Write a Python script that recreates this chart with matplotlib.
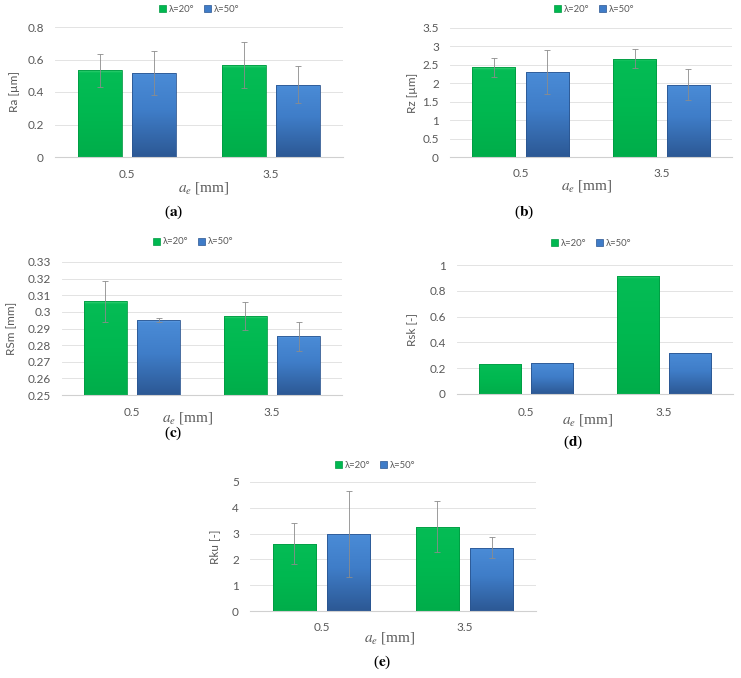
import matplotlib

matplotlib.use("Agg")
import matplotlib.pyplot as plt
import numpy as np
from matplotlib.colors import LinearSegmentedColormap
from matplotlib.patches import Patch
from matplotlib.ticker import FuncFormatter

plt.rcParams["mathtext.fontset"] = "stix"

W, H = 741, 678

# ---- data ----
categories = ["0.5", "3.5"]
series_names = ["λ=20°", "λ=50°"]

ra_mean = {"λ=20°": [0.533, 0.566], "λ=50°": [0.517, 0.445]}
ra_err = {"λ=20°": [0.10, 0.14], "λ=50°": [0.133, 0.113]}

rz_mean = {"λ=20°": [2.435, 2.67], "λ=50°": [2.31, 1.966]}
rz_err = {"λ=20°": [0.26, 0.26], "λ=50°": [0.60, 0.43]}

rsm_mean = {"λ=20°": [0.3063, 0.2973], "λ=50°": [0.2949, 0.2853]}
rsm_err = {"λ=20°": [0.0121, 0.0084], "λ=50°": [0.0012, 0.0086]}

rsk_mean = {"λ=20°": [0.229, 0.915], "λ=50°": [0.239, 0.319]}

rku_mean = {"λ=20°": [2.616, 3.27], "λ=50°": [3.0, 2.46]}
rku_err = {"λ=20°": [0.80, 0.98], "λ=50°": [1.67, 0.39]}

ra_ticks = [0, 0.2, 0.4, 0.6, 0.8]
rz_ticks = [0, 0.5, 1, 1.5, 2, 2.5, 3, 3.5]
rsm_ticks = [0.25, 0.26, 0.27, 0.28, 0.29, 0.30, 0.31, 0.32, 0.33]
rsk_ticks = [0, 0.2, 0.4, 0.6, 0.8, 1]
rku_ticks = [0, 1, 2, 3, 4, 5]

GREEN_CMAP = LinearSegmentedColormap.from_list(
    "g", [(0, "#3fd67a"), (0.03, "#05bc55"), (0.5, "#00b850"), (1, "#00ad4a")])
BLUE_CMAP = LinearSegmentedColormap.from_list(
    "b", [(0, "#6aa6e8"), (0.03, "#4a8bd6"), (0.45, "#3f7dc8"), (1, "#2c5894")])
STYLES = {
    "λ=20°": dict(cmap=GREEN_CMAP, face="#00b850", edge="#009a42"),
    "λ=50°": dict(cmap=BLUE_CMAP, face="#3f7cc8", edge="#2a5590"),
}
TEXT_GRAY = "#595959"
TICK_FONT = "Lato"
SERIF = "Liberation Serif"


def fx(x):
    return x / W


def fy(y):
    return 1 - y / H


def gradient_bars(ax, bars, cmap):
    grad = np.linspace(0, 1, 256).reshape(-1, 1)
    for bar in bars:
        x0, y0 = bar.get_x(), bar.get_y()
        w, h = bar.get_width(), bar.get_height()
        im = ax.imshow(grad, cmap=cmap, aspect="auto", origin="upper",
                       extent=[x0, x0 + w, y0, y0 + h], zorder=2, interpolation="bilinear")
        im.set_clip_path(bar)


def draw_panel(box, means, errs, ticks, ylim, ylabel, letter, pos):
    left, top, right, bottom = box
    ax = plt.gcf().add_axes([fx(left), fy(bottom), fx(right - left), (bottom - top) / H])
    x = np.arange(len(categories))
    width = 0.305
    offs = [-0.19, 0.19]
    base = ylim[0]
    for name, off in zip(series_names, offs):
        st = STYLES[name]
        heights = [m - base for m in means[name]]
        bars = ax.bar(x + off, heights, width, bottom=base,
                      color=st["face"], edgecolor=st["edge"], linewidth=0.6, zorder=3)
        gradient_bars(ax, bars, st["cmap"])
        for b in bars:
            b.set_facecolor("none")
        if errs is not None:
            ax.errorbar(x + off, means[name], yerr=errs[name], fmt="none",
                        ecolor="#8c8c8c", elinewidth=0.6, capsize=2, capthick=0.6, zorder=4)
    ax.set_xlim(-0.5, 1.5)
    ax.set_ylim(*ylim)
    ax.set_yticks(ticks)
    ax.yaxis.set_major_formatter(FuncFormatter(lambda v, p: f"{round(v, 4):g}"))
    ax.set_xticks(x)
    ax.set_xticklabels(categories)
    ax.grid(axis="y", color="#e3e3e3", linewidth=0.7, zorder=0)
    ax.set_axisbelow(True)
    for s in ["top", "right", "left"]:
        ax.spines[s].set_visible(False)
    ax.spines["bottom"].set_color("#d0d0d0")
    ax.spines["bottom"].set_linewidth(0.8)
    ax.tick_params(length=0, labelsize=8.5, labelcolor=TEXT_GRAY)
    ax.tick_params(axis="y", pad=8)
    ax.tick_params(axis="x", pad=(pos["tick_y"] - 6 - bottom) * 0.72)
    for lbl in ax.get_xticklabels() + ax.get_yticklabels():
        lbl.set_fontfamily(TICK_FONT)

    fig = plt.gcf()
    fig.text(fx(pos["ylab_x"]), fy((top + bottom) / 2), ylabel, rotation=90,
             ha="center", va="center", fontsize=8.5, color=TEXT_GRAY, family=TICK_FONT)
    fig.text(fx(pos["xlab_x"]), fy(pos["xlab_y"]), r"$a_e$ [mm]", ha="center", va="center",
             fontsize=11, color=TEXT_GRAY, family=SERIF)
    fig.text(fx(pos["cap_x"]), fy(pos["cap_y"]), rf"($\mathbf{{{letter}}}$)",
             ha="center", va="center", fontsize=11, color="black", family=SERIF)
    handles = [Patch(facecolor=STYLES[n]["face"], edgecolor=STYLES[n]["edge"], linewidth=0.5)
               for n in series_names]
    fig.legend(handles, series_names, loc="center", ncol=2, frameon=False,
               bbox_to_anchor=(fx(pos["leg_x"]), fy(pos["leg_y"])),
               handlelength=0.75, handleheight=0.75, handletextpad=0.3,
               columnspacing=1.0, labelcolor=TEXT_GRAY, prop={"family": TICK_FONT, "size": 6.8})
    return ax


fig = plt.figure(figsize=(W / 100, H / 100), dpi=100)

draw_panel((55, 27, 343, 157), ra_mean, ra_err, ra_ticks, (0, 0.8), "Ra [µm]", "a",
           dict(tick_y=175, ylab_x=15, xlab_x=204, xlab_y=188, cap_x=174, cap_y=212, leg_x=199, leg_y=9))
draw_panel((450, 28, 732, 157), rz_mean, rz_err, rz_ticks, (0, 3.5), "Rz [µm]", "b",
           dict(tick_y=174, ylab_x=412, xlab_x=587, xlab_y=186, cap_x=524, cap_y=212, leg_x=594, leg_y=9))
draw_panel((62, 262, 342, 395), rsm_mean, rsm_err, rsm_ticks, (0.25, 0.33), "RSm [mm]", "c",
           dict(tick_y=413, ylab_x=12, xlab_x=188, xlab_y=418, cap_x=173, cap_y=433, leg_x=193, leg_y=242))
draw_panel((457, 265, 733, 394), rsk_mean, None, rsk_ticks, (0, 1), "Rsk [-]", "d",
           dict(tick_y=413, ylab_x=412, xlab_x=588, xlab_y=420, cap_x=573, cap_y=442, leg_x=591, leg_y=243))
draw_panel((250, 482, 536, 611), rku_mean, rku_err, rku_ticks, (0, 5), "Rku [-]", "e",
           dict(tick_y=628, ylab_x=215, xlab_x=390, xlab_y=638, cap_x=382, cap_y=662, leg_x=375, leg_y=465))

fig.savefig("out.png", dpi=100)
